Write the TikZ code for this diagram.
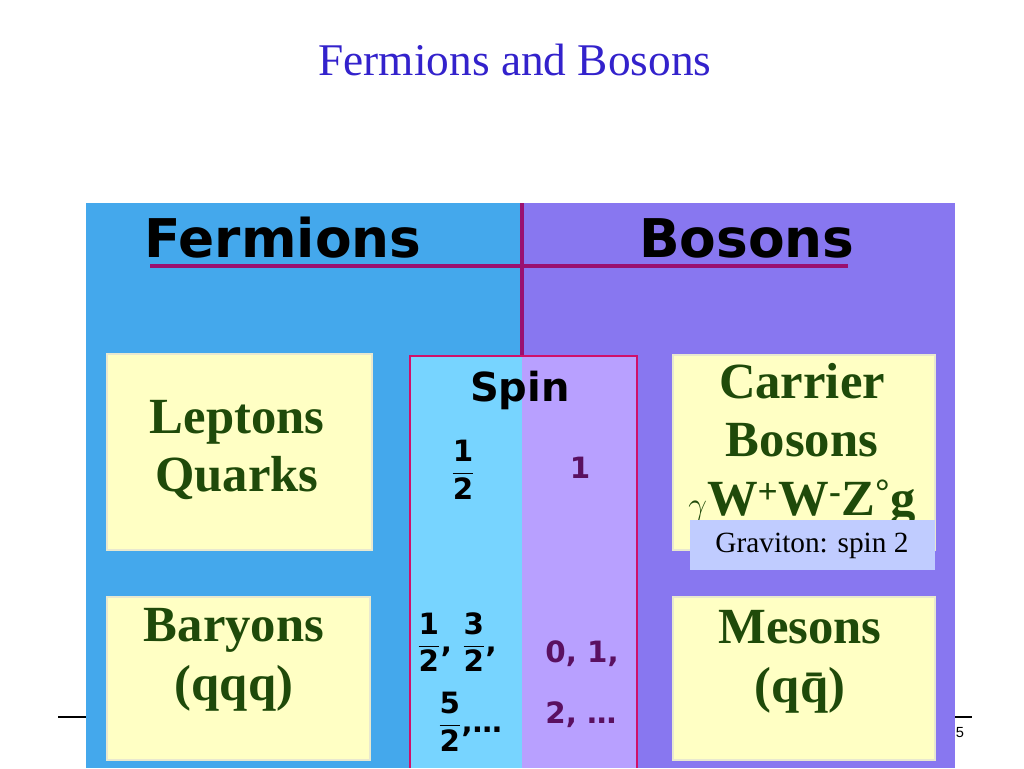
\documentclass[tikz,border=0pt]{standalone}
\usepackage{fontspec}
\setmainfont{Liberation Serif}
\newfontfamily\hdr{DejaVu Sans}
\newfontfamily\arl{Liberation Sans}
\definecolor{fbl}{HTML}{44A8EC}
\definecolor{bpu}{HTML}{8877F0}
\definecolor{mag}{HTML}{9A1070}
\definecolor{ylw}{HTML}{FFFFC4}
\definecolor{grn}{HTML}{1F4A0A}
\definecolor{cyn}{HTML}{77D4FF}
\definecolor{lpu}{HTML}{B8A0FF}
\definecolor{spc}{HTML}{D0106A}
\definecolor{gbx}{HTML}{C0CCFF}
\definecolor{ttl}{HTML}{3322CC}
\definecolor{dpu}{HTML}{5A1060}
\newcommand{\fr}[2]{$\displaystyle\frac{\textbf{#1}}{\textbf{#2}}$}
\begin{document}
\begin{tikzpicture}[x=0.75pt,y=-0.75pt,
  ybox/.style={draw=ylw!70!gray!60,line width=1pt,fill=ylw},
  gtxt/.style={text=grn,font=\fontsize{38}{44}\selectfont\bfseries,align=center},
  htxt/.style={font=\hdr\fontsize{40}{42}\selectfont\bfseries},
  stxt/.style={font=\hdr\bfseries\fontsize{22}{24}\selectfont}]
\useasboundingbox (0,0) rectangle (1024,768);
\fill[white] (0,0) rectangle (1024,768);
\node[text=ttl,font=\fontsize{34}{36}\selectfont] (title) at (515,60) {Fermions and Bosons};
\fill[fbl] (86,203) rectangle (522,768);
\fill[bpu] (522,203) rectangle (955,768);
\node[htxt] (ferm) at (283,238) {Fermions};
\node[htxt] (bos) at (747,238) {Bosons};
\draw[mag,line width=3pt] (150,266) -- (848,266);
\draw[mag,line width=3pt] (522,203) -- (522,356);
% spin column
\fill[cyn] (410,356) rectangle (522,768);
\fill[lpu] (522,356) rectangle (637,768);
\draw[spc,line width=1.5pt] (410,768) -- (410,356) -- (637,356) -- (637,768);
\node[font=\hdr\bfseries\fontsize{30}{32}\selectfont] (spin) at (520,390) {Spin};
\node[stxt] (h1) at (463,470) {\fr{1}{2}};
\node[stxt,text=dpu] (o1) at (580,468) {1};
\node[stxt] (h2a) at (457,642) {\fr{1}{2}, \fr{3}{2},};
\node[stxt] (h2b) at (470,722) {\fr{5}{2},\ldots};
\node[stxt,text=dpu,align=left,font=\hdr\bfseries\fontsize{22}{46}\selectfont] (o2) at (582,684) {0, 1,\\2, \ldots};
% yellow boxes
\draw[ybox] (107,354) rectangle (372,550);
\node[gtxt] (lq) at (237,450) {Leptons\\Quarks};
\draw[ybox] (107,597) rectangle (370,760);
\node[gtxt] (bq) at (234,660) {Baryons\\(qqq)};
\draw[ybox] (673,355) rectangle (935,550);
\node[gtxt] (cb) at (802,445) {Carrier\\Bosons\\$\gamma$W\textsuperscript{+}W\textsuperscript{-}Z\textsuperscript{\textdegree}g};
\draw[ybox] (673,597) rectangle (935,760);
\node[gtxt] (mq) at (800,662) {Mesons\\(q\={q})};
\fill[gbx] (690,520) rectangle (935,570);
\node[font=\fontsize{22}{24}\selectfont] (grav) at (812,546) {Graviton: spin 2};
\draw[line width=1.5pt] (58,717) -- (86,717);
\draw[line width=1.5pt] (955,717) -- (972,717);
\node[font=\arl\fontsize{11}{12}\selectfont] (pg) at (960,733) {5};
\end{tikzpicture}
\end{document}
